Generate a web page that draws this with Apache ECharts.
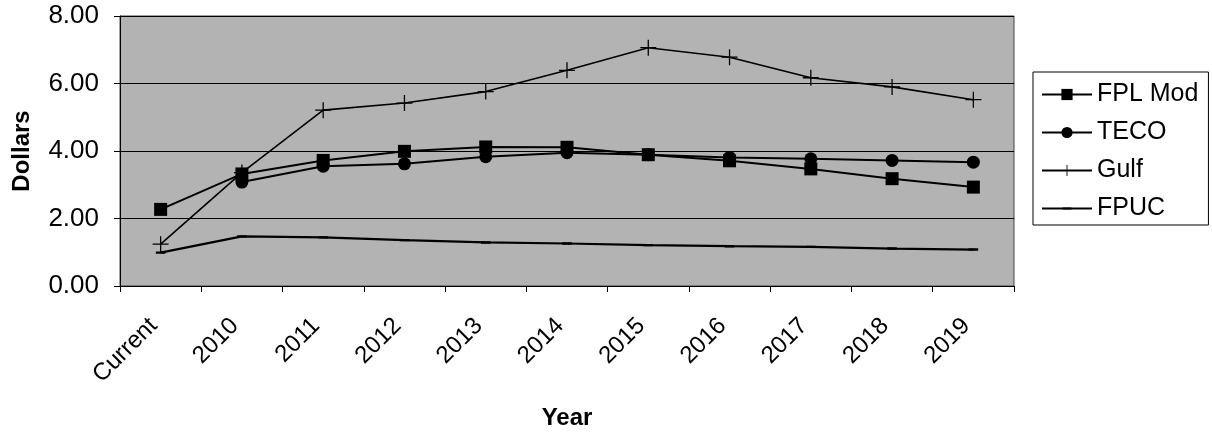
<!DOCTYPE html>
<html>
<head>
<meta charset="utf-8">
<script src="https://cdn.jsdelivr.net/npm/echarts@6/dist/echarts.min.js"></script>
<style>html,body{margin:0;padding:0;background:#fff}#c{width:1212px;height:433px}</style>
</head>
<body>
<div id="c"></div>
<script>
const categories = ['Current','2010','2011','2012','2013','2014','2015','2016','2017','2018','2019'];
const fplMod = [2.27, 3.32, 3.72, 3.99, 4.12, 4.11, 3.89, 3.71, 3.47, 3.18, 2.93];
const teco   = [null, 3.08, 3.55, 3.62, 3.83, 3.95, 3.89, 3.81, 3.77, 3.72, 3.67];
const gulf   = [1.24, 3.36, 5.21, 5.42, 5.76, 6.39, 7.06, 6.78, 6.17, 5.90, 5.52];
const fpuc   = [0.99, 1.47, 1.44, 1.36, 1.29, 1.26, 1.21, 1.18, 1.16, 1.11, 1.08];
const yTicks = [0, 2, 4, 6, 8];

const font = 'Liberation Sans, Arial, sans-serif';
const plus = 'path://M9.2,0 L10.8,0 L10.8,9.2 L20,9.2 L20,10.8 L10.8,10.8 L10.8,20 L9.2,20 L9.2,10.8 L0,10.8 L0,9.2 L9.2,9.2 Z';
const dashIcon = 'path://M0,0 L1,0 L1,0.0005 L0,0.0005 Z M0.1,0.4 L0.9,0.4 L0.9,0.6 L0.1,0.6 Z M0,0.9995 L1,0.9995 L1,1 L0,1 Z';
const chart = echarts.init(document.getElementById('c'));
const mk = (name, data, symbol, size, lw) => ({
  name, type: 'line', data, symbol, symbolSize: size, showSymbol: true,
  connectNulls: false, animation: false,
  lineStyle: { color: '#000', width: lw },
  itemStyle: { color: '#000', borderWidth: 0 }
});
chart.setOption({
  animation: false,
  backgroundColor: '#fff',
  grid: { left: 120, right: 198, top: 16, bottom: 147, show: true, containLabel: false,
          outerBoundsMode: 'none',
          backgroundColor: '#b3b3b3', borderColor: '#444', borderWidth: 1 },
  legend: {
    orient: 'vertical', left: 1033, top: 72, width: 160,
    itemWidth: 50, itemHeight: 14, itemGap: 13,
    padding: [10, 10, 4, 8],
    borderColor: '#000', borderWidth: 1, backgroundColor: '#fff',
    textStyle: { fontFamily: font, fontSize: 25, color: '#000' },
    data: ['FPL Mod', 'TECO', 'Gulf', 'FPUC']
  },
  xAxis: {
    type: 'category', data: categories, boundaryGap: true,
    name: 'Year', nameLocation: 'middle', nameGap: 120,
    nameTextStyle: { fontFamily: font, fontSize: 24, fontWeight: 'bold', color: '#000' },
    axisLine: { lineStyle: { color: '#000', width: 1 } },
    axisTick: { show: true, length: 6, lineStyle: { color: '#000' } },
    axisLabel: { rotate: 45, margin: 29, padding: [0, 10, 0, 0], fontFamily: font, fontSize: 24, color: '#000', interval: 0 },
    splitLine: { show: false }
  },
  yAxis: {
    type: 'value', min: 0, max: 8, interval: 2,
    name: 'Dollars', nameLocation: 'middle', nameGap: 86, nameRotate: 90,
    nameTextStyle: { fontFamily: font, fontSize: 24, fontWeight: 'bold', color: '#000' },
    axisLine: { show: true, lineStyle: { color: '#000', width: 1 } },
    axisTick: { show: true, length: 6, lineStyle: { color: '#000' } },
    axisLabel: { margin: 21, fontFamily: font, fontSize: 26, color: '#000',
                 formatter: v => yTicks.includes(v) ? v.toFixed(2) : '' },
    splitLine: { show: true, lineStyle: { color: '#000', width: 1 } }
  },
  series: [
    mk('FPL Mod', fplMod, 'rect', 13, 2),
    mk('TECO', teco, 'circle', 13, 2),
    mk('Gulf', gulf, plus, 16, 1.6),
    mk('FPUC', fpuc, dashIcon, 12, 2.2)
  ]
});
</script>
</body>
</html>
